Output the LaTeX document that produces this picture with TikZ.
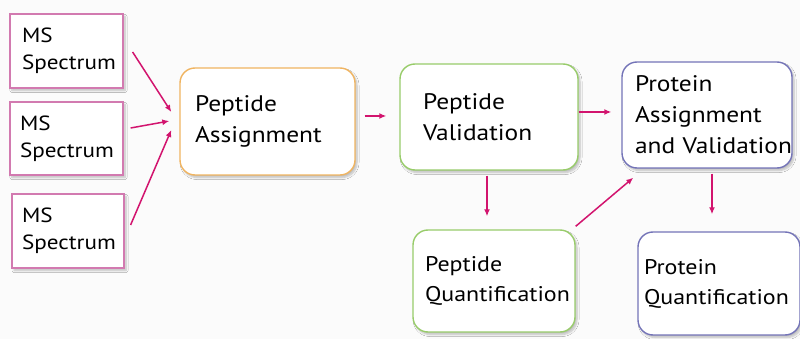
\documentclass[tikz,border=0pt]{standalone}
\usepackage{fontspec}
\setmainfont[FakeStretch=1.13]{PT Sans}
\usetikzlibrary{arrows.meta,calc,shadows.blur}
\definecolor{bg}{HTML}{FBFBFB}
\definecolor{mspink}{HTML}{D27AB0}
\definecolor{paorange}{HTML}{F0B460}
\definecolor{pvgreen}{HTML}{98CC6A}
\definecolor{prblue}{HTML}{7474B8}
\definecolor{arr}{HTML}{D2146E}
\tikzset{
  box/.style={draw, line width=1.4pt, align=left, inner xsep=0pt, inner ysep=0pt,
    blur shadow={shadow blur steps=6, shadow xshift=2pt, shadow yshift=-2.5pt, shadow opacity=25},
    fill=white, font=\fontsize{22.5}{31}\selectfont},
  msbox/.style={box, draw=mspink, line width=1.2pt, font=\fontsize{20.5}{27}\selectfont},
  rbox/.style={box, rounded corners=15pt},
  qbox/.style={rbox, font=\fontsize{21.2}{30}\selectfont},
  conn/.style={draw=arr, line width=1.5pt, -{Latex[length=7pt,width=6pt]}}
}
\begin{document}
\begin{tikzpicture}[x=1pt,y=-1pt]
\fill[bg] (0,0) rectangle (800,339);
\useasboundingbox (0,0) rectangle (800,339);
\node[msbox, minimum width=113, minimum height=74, text width=89] (ms1) at (66.5,51) {MS\\Spectrum};
\node[msbox, minimum width=113, minimum height=73, text width=93] (ms2) at (66.5,138.5) {MS\\Spectrum};
\node[msbox, minimum width=112, minimum height=74, text width=92] (ms3) at (68,231) {MS\\Spectrum};
\node[rbox, draw=paorange, minimum width=175, minimum height=107, text width=145] (pa) at (267.5,121.5) {Peptide\\Assignment};
\node[rbox, draw=pvgreen, minimum width=178, minimum height=106, text width=132] (pv) at (489,117) {Peptide\\Validation};
\node[rbox, draw=prblue, minimum width=170, minimum height=106, text width=144] (prota) at (707,115) {Protein\\Assignment\\\mbox{and Validation}};
\node[qbox, draw=pvgreen, minimum width=162, minimum height=102, text width=138] (pq) at (494,281) {Peptide\\\mbox{Quantification}};
\node[qbox, draw=prblue, minimum width=162, minimum height=103, text width=150] (protq) at (719,283.5) {Protein\\\mbox{Quantification}};
\draw[conn] ($(ms1.east)+(9,1)$) -- ($(pa.west)+(-8,-9.5)$);
\draw[conn] ($(ms2.east)+(7,-10.5)$) -- ($(pa.west)+(-10,-0.5)$);
\draw[conn] ($(ms3.east)+(6,-6)$) -- ($(pa.west)+(-8,8.5)$);
\draw[conn] ($(pa.east)+(9,-5.5)$) -- ($(pv.west)+(-13,-1)$);
\draw[conn] ($(pv.east)+(0,-5)$) -- ($(prota.west)+(-10,-3)$);
\draw[conn] ($(pv.south)+(-2,5)$) -- ($(pq.north)+(-7,-13)$);
\draw[conn] ($(pq.north east)+(0,-3)$) -- ($(prota.south west)+(12,9)$);
\draw[conn] ($(prota.south)+(5,5)$) -- ($(protq.north)+(-7,-17)$);
\end{tikzpicture}
\end{document}
